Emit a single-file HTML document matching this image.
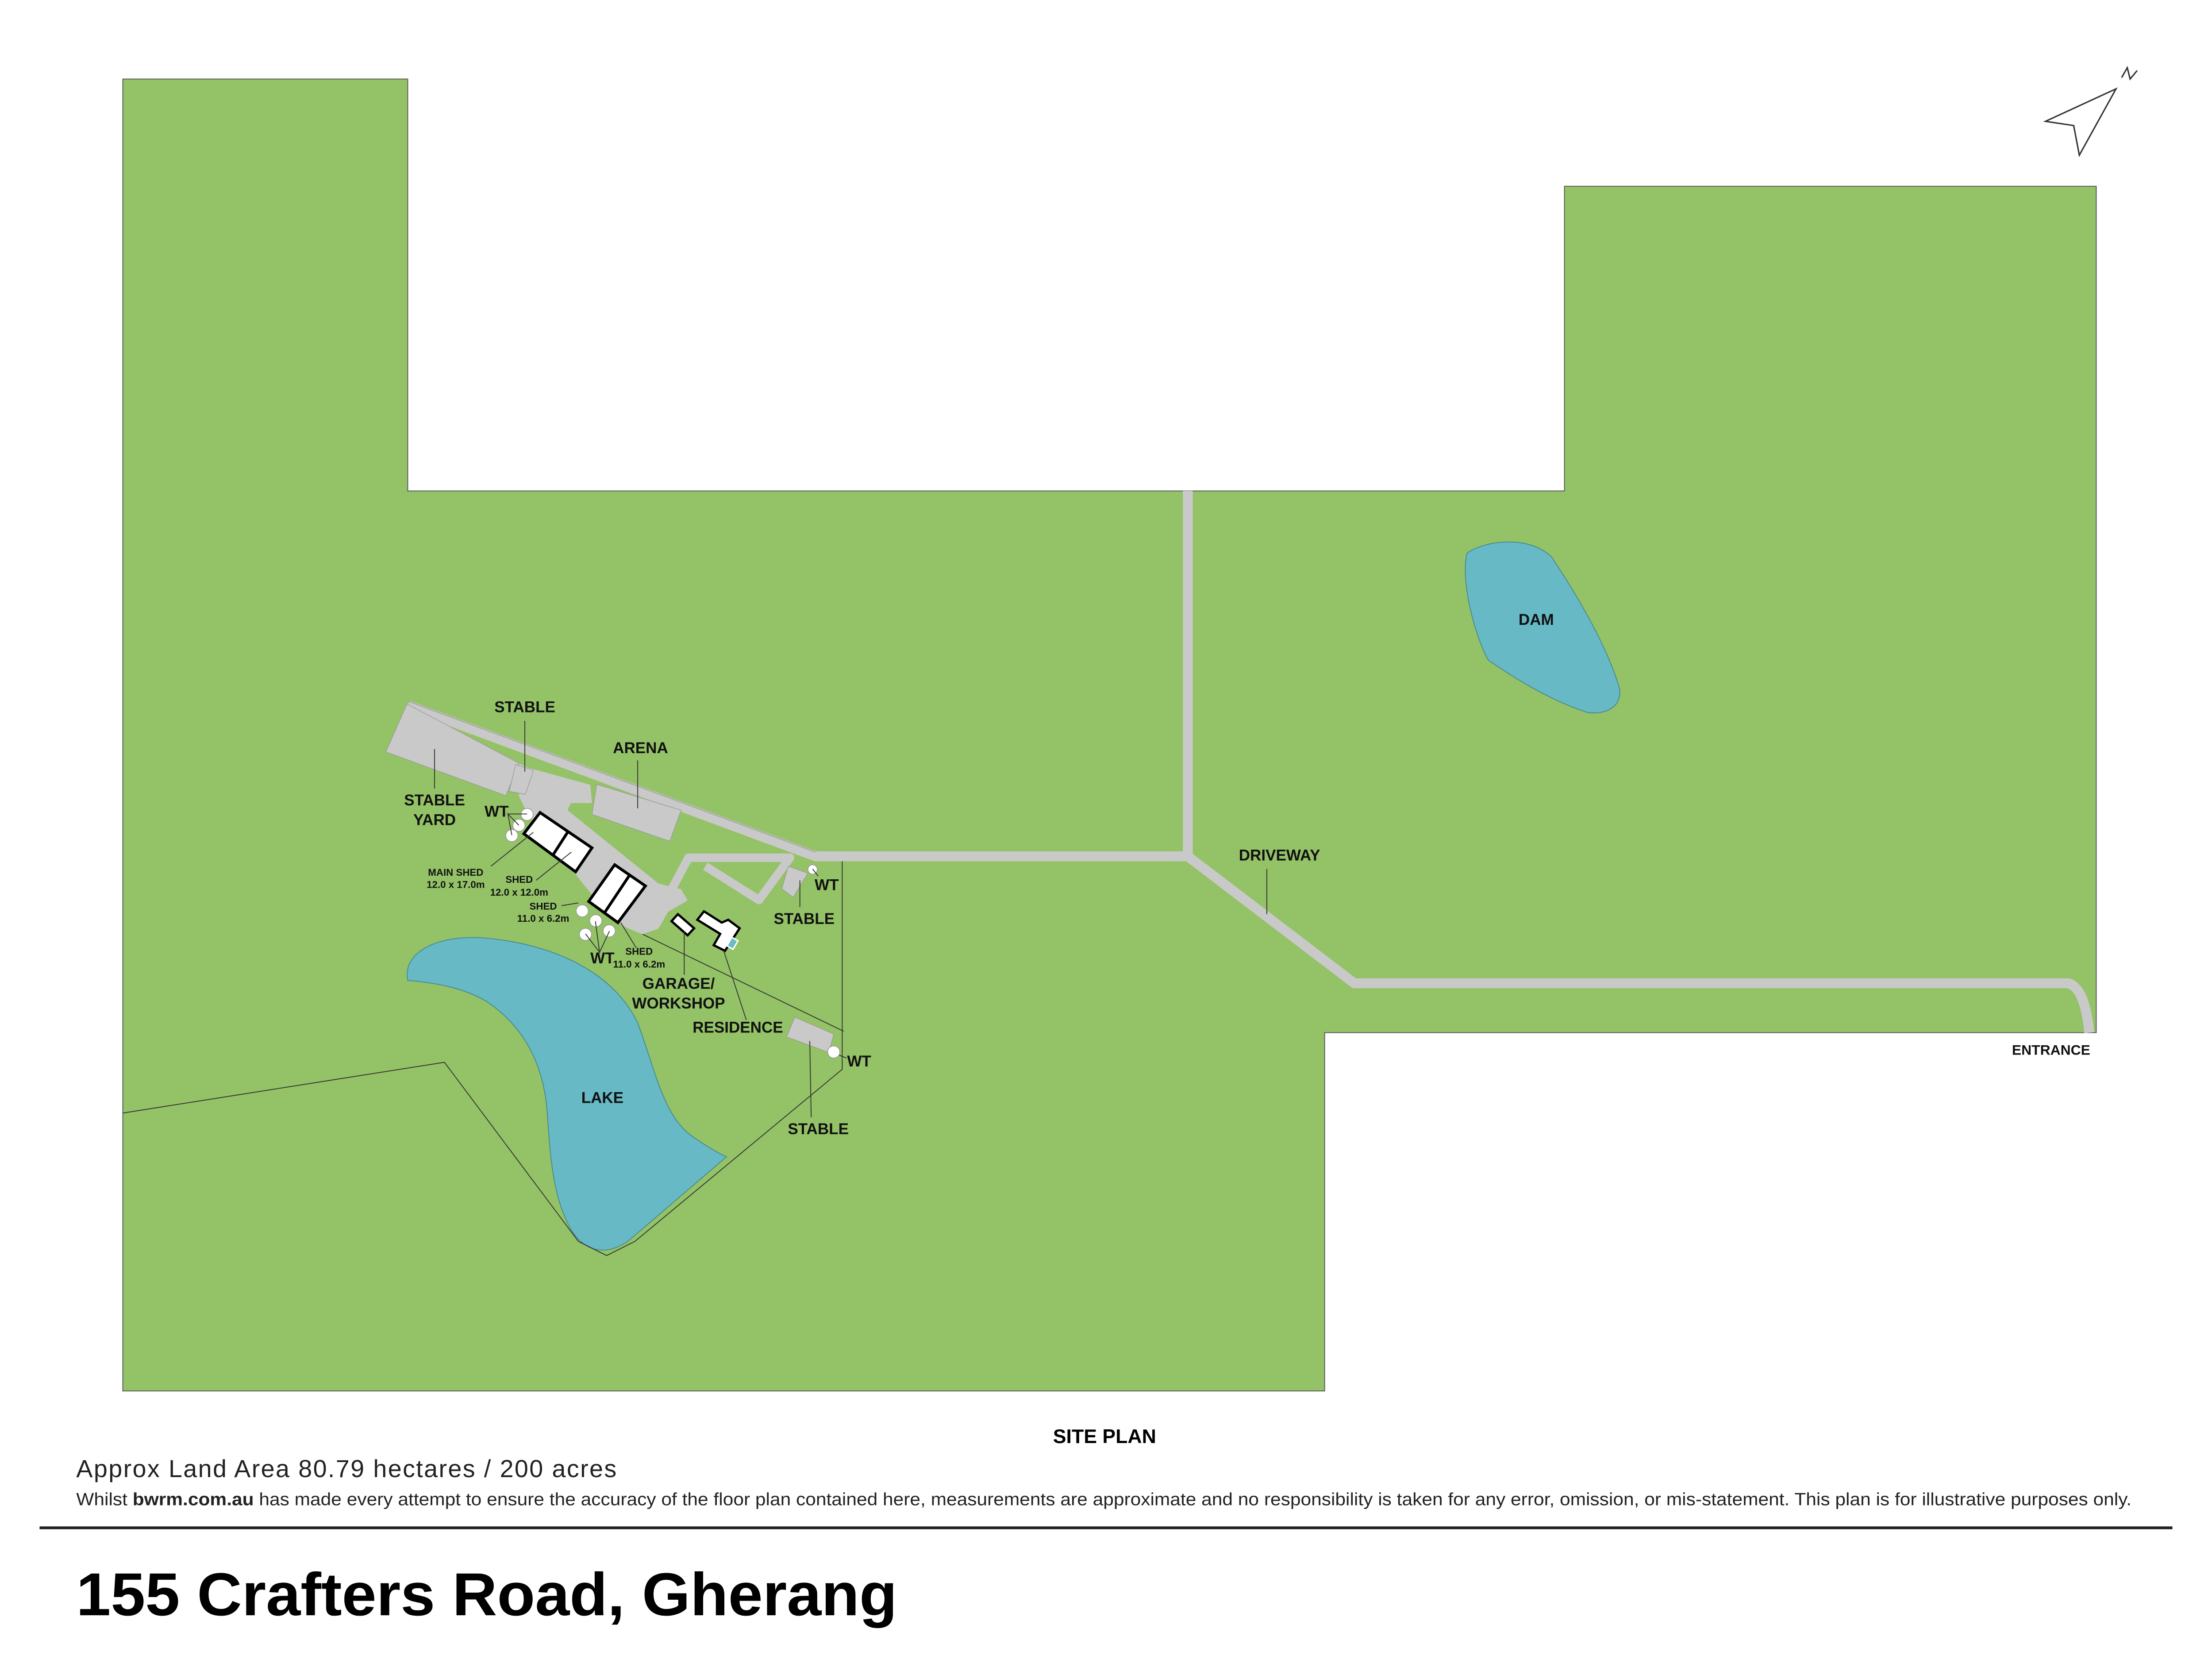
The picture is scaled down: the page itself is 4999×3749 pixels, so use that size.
<!DOCTYPE html>
<html><head><meta charset="utf-8"><style>
html,body{margin:0;padding:0;background:#fff}
svg{display:block}
text{font-family:"Liberation Sans",Arial,sans-serif}
.l{font-weight:bold;font-size:11px;fill:#111;text-anchor:middle;dominant-baseline:middle}
.s{font-weight:bold;font-size:7px;fill:#111;text-anchor:middle;dominant-baseline:middle}
.ld{stroke:#333;stroke-width:0.6;fill:none}
</style></head><body>
<svg width="4999" height="3749" viewBox="0 0 1568 1176" xmlns="http://www.w3.org/2000/svg">
<rect width="1568" height="1176" fill="#fff"/>
<polygon points="87,56 289,56 289,348 1109,348 1109,132 1486,132 1486,732 939,732 939,986 87,986" fill="#94c267" stroke="#555" stroke-width="0.6"/>
<!-- lake -->
<path d="M289,695 C285,675 310,662 345,665 C395,670 435,690 452,725 C465,760 470,790 490,805 C500,812 510,818 515,820 L445,880 C430,890 415,888 405,872 C392,850 390,820 388,790 C386,760 375,730 345,710 C325,698 300,696 289,695 Z" fill="#66b9c5" stroke="#4a8a8e" stroke-width="0.6"/>
<!-- dam -->
<path d="M1040,392 C1055,382 1085,380 1100,395 C1120,425 1140,460 1148,488 C1150,500 1140,507 1125,505 C1095,495 1070,478 1055,468 C1045,450 1035,410 1040,392 Z" fill="#66b9c5" stroke="#4a8a8e" stroke-width="0.6"/>
<!-- boundary lines -->
<polyline class="ld" points="87,789 315,753 410,880 430,890 450,880 597,758 597,608"/>
<line class="ld" x1="455" y1="662" x2="598" y2="731"/>
<!-- roads -->
<g fill="none" stroke="#c9c9c9" stroke-linejoin="round">
<polyline stroke-width="7" points="289,500 578,607 842,607"/>
<path stroke-width="7" d="M842,348 L842,607 L960,697 L1466,697 Q1478,700 1481,732"/>
<polyline stroke-width="6" points="470,642 488,608 560,608 538,638 500,614"/>
</g>
<line x1="289" y1="497" x2="578" y2="604" stroke="#999" stroke-width="0.5"/>
<!-- stable yard -->
<polygon points="288.5,499 273.5,533 358.6,564 367.8,541" fill="#c9c9c9" stroke="#999" stroke-width="0.4"/>
<!-- courtyard -->
<polygon points="367.8,541.3 374.7,544.3 418.4,556.3 419.6,569.3 404.6,569.3 402.3,574.3 466.7,626.3 482.8,630.3 487.4,638.3 473.6,646.3 466.7,658.3 455.2,662.3 441.4,656.3 427.6,644.3 374.7,578.3 367.8,564.3" fill="#c9c9c9"/>
<polygon points="378,546 392,549 390,556 376,553" fill="#c9c9c9"/>
<!-- stables/arena -->
<polygon points="365.5,542 360.9,561 372.4,563 378.2,546" fill="#c9c9c9" stroke="#999" stroke-width="0.4"/>
<polygon points="423,556 419.6,577.3 474.8,596.3 482.8,574.3" fill="#c9c9c9" stroke="#999" stroke-width="0.4"/>
<polygon points="558.8,614 554.2,630 562.2,636 572.6,619" fill="#c9c9c9" stroke="#999" stroke-width="0.4"/>
<polygon points="563.4,721 557.6,735 587.5,746 591,733" fill="#c9c9c9" stroke="#999" stroke-width="0.4"/>
<!-- sheds -->
<g fill="#fff" stroke="#000" stroke-width="2">
<polygon points="382.8,576 371.3,591 408,618 419.6,601"/>
<line x1="402.3" y1="590" x2="392" y2="606"/>
<polygon points="435.7,613 417.3,639 438,654 457.5,628"/>
<line x1="446.5" y1="620" x2="428.5" y2="647"/>
<polygon points="480.5,648 476,653 487.4,663 492,658" stroke-width="1.6"/>
<polygon points="499,646 511.6,654 516.2,652 524.3,658 513.9,674 505.9,670 510.5,662 494.3,652" stroke-width="1.6"/>
</g>
<rect x="517" y="665" width="5" height="7" fill="#6cbcc6" stroke="#fff" stroke-width="1" transform="rotate(30 519 668)"/>
<!-- WT circles -->
<g fill="#fff" stroke="#999" stroke-width="0.5">
<circle cx="373.6" cy="577.3" r="4.3"/><circle cx="367.8" cy="585" r="4.3"/><circle cx="362.8" cy="592.3" r="4.3"/>
<circle cx="412.7" cy="645.7" r="4.3"/><circle cx="422.3" cy="652.7" r="4.3"/><circle cx="431.8" cy="659.9" r="4.3"/><circle cx="415" cy="662.3" r="4.3"/>
<circle cx="576" cy="616.3" r="3.3"/><circle cx="591" cy="745.7" r="4.3"/>
</g>
<!-- leaders -->
<g class="ld">
<line x1="372" y1="511" x2="372" y2="547"/>
<line x1="308" y1="531" x2="308" y2="559"/>
<line x1="452" y1="539" x2="452" y2="573"/>
<polyline points="373.6,577 360,577 367.8,585 360,577 362.8,592"/>
<line x1="348" y1="614" x2="378" y2="590"/>
<line x1="380" y1="624" x2="405" y2="604"/>
<line x1="398" y1="642" x2="410" y2="640"/>
<polyline points="415,662 425,675 422,653 425,675 432,660"/>
<line x1="451" y1="672" x2="440" y2="654"/>
<line x1="485" y1="691" x2="485" y2="660"/>
<line x1="529" y1="723" x2="513" y2="674"/>
<line x1="567" y1="643" x2="567" y2="624"/>
<line x1="576" y1="616" x2="580" y2="621"/>
<line x1="575" y1="792" x2="574" y2="738"/>
<line x1="595" y1="748" x2="600" y2="750"/>
<line x1="898" y1="616" x2="898" y2="648"/>
</g>
<!-- labels -->
<text class="l" x="372" y="502">STABLE</text>
<text class="l" x="454" y="531">ARENA</text>
<text class="l" x="308" y="568">STABLE</text>
<text class="l" x="308" y="582">YARD</text>
<text class="l" x="352" y="576">WT</text>
<text class="s" x="323" y="619">MAIN SHED</text>
<text class="s" x="323" y="627.5">12.0 x 17.0m</text>
<text class="s" x="368" y="624">SHED</text>
<text class="s" x="368" y="633">12.0 x 12.0m</text>
<text class="s" x="385" y="643">SHED</text>
<text class="s" x="385" y="651.5">11.0 x 6.2m</text>
<text class="l" x="427" y="680">WT</text>
<text class="s" x="453" y="675">SHED</text>
<text class="s" x="453" y="684">11.0 x 6.2m</text>
<text class="l" x="481" y="698">GARAGE/</text>
<text class="l" x="481" y="712">WORKSHOP</text>
<text class="l" x="523" y="729">RESIDENCE</text>
<text class="l" x="586" y="628">WT</text>
<text class="l" x="570" y="652">STABLE</text>
<text class="l" x="609" y="753">WT</text>
<text class="l" x="580" y="801">STABLE</text>
<text class="l" x="427" y="779">LAKE</text>
<text class="l" x="1089" y="440">DAM</text>
<text class="l" x="907" y="607">DRIVEWAY</text>
<text class="l" x="1454" y="745" style="font-size:10px">ENTRANCE</text>
<!-- north arrow -->
<g fill="none" stroke="#333" stroke-width="1">
<polygon points="1500,63 1450,86 1470,89 1474,110"/>
<polyline points="1504,55 1508,48 1510,56 1515,50"/>
</g>
<!-- footer -->
<text x="783" y="1023" style="font-weight:bold;font-size:14px" text-anchor="middle">SITE PLAN</text>
<text x="54" y="1047" style="font-size:17.5px" fill="#222" textLength="383">Approx Land Area 80.79 hectares / 200 acres</text>
<text x="54" y="1067" style="font-size:12.5px" fill="#222" textLength="1457" lengthAdjust="spacingAndGlyphs">Whilst <tspan font-weight="bold">bwrm.com.au</tspan> has made every attempt to ensure the accuracy of the floor plan contained here, measurements are approximate and no responsibility is taken for any error, omission, or mis-statement. This plan is for illustrative purposes only.</text>
<line x1="28" y1="1083" x2="1540" y2="1083" stroke="#222" stroke-width="2"/>
<text x="54" y="1145" style="font-weight:bold;font-size:43px" fill="#000" textLength="582" lengthAdjust="spacingAndGlyphs">155 Crafters Road, Gherang</text>
</svg>
</body></html>
